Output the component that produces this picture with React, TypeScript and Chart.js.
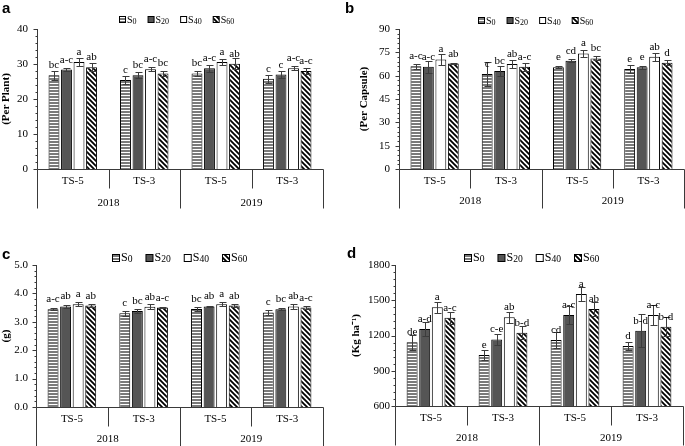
import React, { useEffect, useRef } from 'react';
import { Chart, registerables } from 'chart.js';

Chart.register(...registerables);

const SERIF = "'Liberation Serif', 'Times New Roman', Times, serif";
const SANS = "'Liberation Sans', Arial, Helvetica, sans-serif";
const AXIS = '#3a3a3a';

// two-level x axis
const categories = ['TS-5', 'TS-3', 'TS-5', 'TS-3'];
const years = ['2018', '2019'];
const seriesNames = ['S0', 'S20', 'S40', 'S60'];
const seriesSubs = ['0', '20', '40', '60'];

// panel a : (Per Plant) — one inner array per series (S0, S20, S40, S60)
const plantValues = [
  [26.8, 25.4, 27.3, 25.8],
  [28.4, 26.8, 28.8, 27.0],
  [30.6, 28.5, 30.6, 28.8],
  [29.1, 27.3, 30.1, 28.0],
];
const plantErrors = [
  [1.3, 1.2, 0.7, 1.2],
  [0.5, 0.9, 1.0, 1.0],
  [1.2, 0.6, 0.8, 0.6],
  [1.1, 0.7, 1.5, 0.8],
];
const plantLetters = [
  ['bc', 'c', 'bc', 'c'],
  ['a-c', 'bc', 'a-c', 'c'],
  ['a', 'a-c', 'a', 'a-c'],
  ['ab', 'bc', 'ab', 'a-c'],
];
const plantTicks = [0, 10, 20, 30, 40];

// panel b : (Per Capsule)
const capsuleValues = [
  [66.0, 61.0, 65.4, 64.3],
  [65.8, 63.0, 69.6, 65.4],
  [70.4, 67.5, 74.3, 72.2],
  [67.8, 65.8, 71.1, 68.3],
];
const capsuleErrors = [
  [1.6, 7.5, 0.6, 2.6],
  [3.8, 2.9, 0.8, 0.8],
  [3.8, 2.5, 2.1, 2.5],
  [0.3, 2.6, 1.3, 1.6],
];
const capsuleLetters = [
  ['a-c', 'c', 'e', 'e'],
  ['a-c', 'bc', 'cd', 'e'],
  ['a', 'ab', 'a', 'ab'],
  ['ab', 'a-c', 'bc', 'd'],
];
const capsuleTicks = [0, 15, 30, 45, 60, 75, 90];

// panel c : (g)
const weightValues = [
  [3.44, 3.30, 3.45, 3.33],
  [3.54, 3.38, 3.54, 3.44],
  [3.62, 3.53, 3.62, 3.54],
  [3.57, 3.50, 3.57, 3.50],
];
const weightErrors = [
  [0.04, 0.08, 0.06, 0.08],
  [0.06, 0.06, 0.03, 0.04],
  [0.08, 0.08, 0.08, 0.08],
  [0.05, 0.03, 0.05, 0.04],
];
const weightLetters = [
  ['a-c', 'c', 'bc', 'c'],
  ['ab', 'bc', 'ab', 'bc'],
  ['a', 'ab', 'a', 'ab'],
  ['ab', 'a-c', 'ab', 'a-c'],
];
const weightTicks = [0, 1, 2, 3, 4, 5];

// panel d : (Kg ha-1)
const yieldValues = [
  [1142, 1034, 1162, 1111],
  [1255, 1167, 1374, 1241],
  [1440, 1355, 1553, 1374],
  [1351, 1224, 1426, 1275],
];
const yieldErrors = [
  [62, 42, 71, 31],
  [57, 45, 77, 140],
  [48, 48, 57, 85],
  [51, 57, 62, 80],
];
const yieldLetters = [
  ['de', 'e', 'cd', 'd'],
  ['a-d', 'c-e', 'a-c', 'b-d'],
  ['a', 'ab', 'a', 'a-c'],
  ['a-c', 'b-d', 'ab', 'b-d'],
];
const yieldTicks = [600, 900, 1200, 1500, 1800];

type Panel = {
  letter: string; title: string;
  values: number[][]; errors: number[][]; letters: string[][];
  ticks: number[]; decimals: number;
  left: number; top: number; w: number; h: number;
  padL: number; padT: number; padR: number; padB: number;
  yW: number; tickPad: number; x2H: number; x2Pad: number;
  legX: number; legY: number; legFont: number; legBox: number; legGap: number;
  letX: number; letY: number;
};

const panels: Panel[] = [
  {
    letter: 'a', title: '(Per Plant)', values: plantValues, errors: plantErrors, letters: plantLetters,
    ticks: plantTicks, decimals: 0,
    left: 0, top: 0, w: 340, h: 225, padL: 0, padT: 29, padR: 17, padB: 16,
    yW: 37, tickPad: 9, x2H: 20, x2Pad: 8,
    legX: 177, legY: 19, legFont: 10, legBox: 6, legGap: 11, letX: 2, letY: 13,
  },
  {
    letter: 'b', title: '(Per Capsule)', values: capsuleValues, errors: capsuleErrors, letters: capsuleLetters,
    ticks: capsuleTicks, decimals: 0,
    left: 340, top: 0, w: 345, h: 225, padL: 18, padT: 29, padR: 1, padB: 16,
    yW: 41, tickPad: 9, x2H: 20, x2Pad: 6,
    legX: 196, legY: 20, legFont: 10, legBox: 6, legGap: 11, letX: 5, letY: 13,
  },
  {
    letter: 'c', title: '(g)', values: weightValues, errors: weightErrors, letters: weightLetters,
    ticks: weightTicks, decimals: 1,
    left: 0, top: 225, w: 340, h: 221, padL: 0, padT: 40, padR: 17, padB: 0,
    yW: 36, tickPad: 8, x2H: 19, x2Pad: 6,
    legX: 180, legY: 32, legFont: 12, legBox: 7, legGap: 13, letX: 2, letY: 34,
  },
  {
    letter: 'd', title: '(Kg ha\u207B\u00B9)', values: yieldValues, errors: yieldErrors, letters: yieldLetters,
    ticks: yieldTicks, decimals: 0,
    left: 340, top: 225, w: 345, h: 221, padL: 10, padT: 40, padR: 2, padB: 0,
    yW: 45, tickPad: 5, x2H: 20, x2Pad: 6,
    legX: 192, legY: 32, legFont: 12, legBox: 7, legGap: 13, letX: 7, letY: 33,
  },
];

function makeFills(): (string | CanvasPattern)[] {
  const h = document.createElement('canvas');
  h.width = 4; h.height = 3;
  const hg = h.getContext('2d')!;
  hg.fillStyle = '#ffffff'; hg.fillRect(0, 0, 4, 3);
  hg.fillStyle = '#7a7a7a'; hg.fillRect(0, 0, 4, 2);
  const hp = hg.createPattern(h, 'repeat')!;

  const s = 5;
  const d = document.createElement('canvas');
  d.width = s; d.height = s;
  const dg = d.getContext('2d')!;
  dg.fillStyle = '#ffffff'; dg.fillRect(0, 0, s, s);
  dg.strokeStyle = '#000000'; dg.lineWidth = 1.8;
  dg.beginPath();
  dg.moveTo(-1, -1); dg.lineTo(s + 1, s + 1);
  dg.moveTo(s - 1, -1); dg.lineTo(2 * s + 1, s + 1);
  dg.moveTo(-s - 1, -1); dg.lineTo(1, s + 1);
  dg.stroke();
  const dp = dg.createPattern(d, 'repeat')!;
  return [hp, '#555555', '#ffffff', dp];
}

function decoPlugin(p: Panel, fills: (string | CanvasPattern)[]) {
  return {
    id: 'deco',
    afterDatasetsDraw(chart: any) {
      const ctx: CanvasRenderingContext2D = chart.ctx;
      const ys = chart.scales.y;
      ctx.save();
      chart.data.datasets.forEach((_ds: any, di: number) => {
        const meta = chart.getDatasetMeta(di);
        meta.data.forEach((el: any, i: number) => {
          const v = p.values[di][i];
          const e = p.errors[di][i];
          const x = Math.round(el.x) + 0.5;
          const yT = Math.round(ys.getPixelForValue(v + e)) + 0.5;
          const yB = Math.round(ys.getPixelForValue(v - e)) + 0.5;
          ctx.strokeStyle = '#3c3c3c';
          ctx.lineWidth = 1;
          ctx.beginPath();
          ctx.moveTo(x, yT); ctx.lineTo(x, yB);
          ctx.moveTo(x - 3, yT); ctx.lineTo(x + 4, yT);
          ctx.moveTo(x - 3, yB); ctx.lineTo(x + 4, yB);
          ctx.stroke();
          ctx.fillStyle = '#000';
          ctx.font = `11px ${SERIF}`;
          ctx.textAlign = 'center';
          ctx.textBaseline = 'alphabetic';
          ctx.fillText(p.letters[di][i], el.x, el.y - 7);
        });
      });
      ctx.restore();
    },
    afterDraw(chart: any) {
      const ctx: CanvasRenderingContext2D = chart.ctx;
      const { left, right, top, bottom } = chart.chartArea;
      const ys = chart.scales.y;
      const xs = chart.scales.x;
      ctx.save();
      ctx.strokeStyle = AXIS;
      ctx.lineWidth = 1;
      const ax = Math.round(left) + 0.5;
      const ay = Math.round(bottom) + 0.5;
      ctx.beginPath();
      ctx.moveTo(ax, Math.round(top)); ctx.lineTo(ax, ay);
      ctx.moveTo(ax, ay); ctx.lineTo(Math.round(right) + 0.5, ay);
      // y ticks: major + 4 minor between
      const t = p.ticks;
      const major = t[1] - t[0];
      const minor = major / 5;
      const n = Math.round((t[t.length - 1] - t[0]) / minor);
      for (let i = 0; i <= n; i++) {
        const v = t[0] + i * minor;
        const y = Math.round(ys.getPixelForValue(v)) + 0.5;
        const len = i % 5 === 0 ? 4 : 2;
        ctx.moveTo(ax - len, y); ctx.lineTo(ax, y);
      }
      // category dividers
      const w = xs.getPixelForValue(1) - xs.getPixelForValue(0);
      const b0 = xs.getPixelForValue(0) - w / 2;
      for (let k = 0; k <= categories.length; k++) {
        const x = Math.round(b0 + k * w) + 0.5;
        const len = k % 2 === 0 ? 39 : 19;
        ctx.moveTo(x, ay); ctx.lineTo(x, ay + len);
      }
      ctx.stroke();

      // legend
      const fs = p.legFont;
      const sub = fs * 0.8;
      const items = seriesNames.map((_n, i) => {
        ctx.font = `${fs}px ${SERIF}`;
        const sw = ctx.measureText('S').width;
        ctx.font = `${sub}px ${SERIF}`;
        const dw = ctx.measureText(seriesSubs[i]).width;
        return { sw, dw, width: p.legBox + 2 + sw + dw };
      });
      const total = items.reduce((a, b) => a + b.width, 0) + p.legGap * (items.length - 1);
      let x = Math.round(p.legX - total / 2);
      const cy = p.legY;
      items.forEach((it, i) => {
        const bx = x + 0.5;
        const by = Math.round(cy - p.legBox / 2) + 0.5;
        ctx.fillStyle = fills[i] as any;
        ctx.fillRect(bx, by, p.legBox, p.legBox);
        ctx.strokeStyle = '#000';
        ctx.strokeRect(bx, by, p.legBox, p.legBox);
        ctx.fillStyle = '#000';
        ctx.textAlign = 'left';
        ctx.textBaseline = 'alphabetic';
        ctx.font = `${fs}px ${SERIF}`;
        const base = cy + fs * 0.36;
        ctx.fillText('S', x + p.legBox + 2, base);
        ctx.font = `${sub}px ${SERIF}`;
        ctx.fillText(seriesSubs[i], x + p.legBox + 2 + it.sw, base + 1);
        x += it.width + p.legGap;
      });

      // panel letter
      ctx.fillStyle = '#000';
      ctx.font = `bold 15px ${SANS}`;
      ctx.textAlign = 'left';
      ctx.textBaseline = 'alphabetic';
      ctx.fillText(p.letter, p.letX, p.letY);
      ctx.restore();
    },
  };
}

function PanelChart({ p }: { p: Panel }) {
  const ref = useRef<HTMLCanvasElement>(null);
  useEffect(() => {
    const canvas = ref.current!;
    const fills = makeFills();
    const tickFont = { family: SERIF, size: 11 };
    const chart = new Chart(canvas, {
      type: 'bar',
      data: {
        labels: categories,
        datasets: p.values.map((vals, i) => ({
          label: seriesNames[i],
          data: vals,
          xAxisID: 'x',
          backgroundColor: fills[i] as any,
          borderColor: '#000000',
          borderWidth: 1,
          categoryPercentage: 0.7,
          barPercentage: 0.87,
        })),
      },
      options: {
        responsive: false,
        animation: false,
        devicePixelRatio: 1,
        layout: { padding: { left: p.padL, top: p.padT, right: p.padR, bottom: p.padB } },
        plugins: { legend: { display: false }, tooltip: { enabled: false } },
        scales: {
          x: {
            type: 'category',
            position: 'bottom',
            offset: true,
            weight: 0,
            grid: { display: false, drawTicks: false },
            border: { display: false },
            ticks: { padding: 6, color: '#000', font: tickFont, autoSkip: false, maxRotation: 0 },
            afterFit: (s: any) => { s.height = 20; },
          },
          x2: {
            type: 'category',
            position: 'bottom',
            labels: years,
            offset: true,
            weight: 1,
            grid: { display: false, drawTicks: false },
            border: { display: false },
            ticks: { padding: p.x2Pad, color: '#000', font: tickFont, autoSkip: false, maxRotation: 0 },
            afterFit: (s: any) => { s.height = p.x2H; },
          },
          y: {
            type: 'linear',
            min: p.ticks[0],
            max: p.ticks[p.ticks.length - 1],
            afterBuildTicks: (s: any) => { s.ticks = p.ticks.map((v) => ({ value: v })); },
            grid: { display: false, drawTicks: false },
            border: { display: false },
            ticks: {
              padding: p.tickPad,
              color: '#000',
              font: tickFont,
              callback: (v: any) => Number(v).toFixed(p.decimals),
            },
            title: {
              display: true,
              text: p.title,
              color: '#000',
              font: { family: SERIF, size: 11, weight: 'bold' },
              padding: 0,
            },
            afterFit: (s: any) => { s.width = p.yW; },
          },
        },
      } as any,
      plugins: [decoPlugin(p, fills)],
    });
    return () => chart.destroy();
  }, [p]);
  return (
    <canvas
      ref={ref}
      width={p.w}
      height={p.h}
      style={{ position: 'absolute', left: p.left, top: p.top, width: p.w, height: p.h }}
    />
  );
}

export default function App() {
  return (
    <div style={{ position: 'fixed', left: 0, top: 0, width: 685, height: 446, background: '#fff', overflow: 'hidden' }}>
      {panels.map((p) => (
        <PanelChart key={p.letter} p={p} />
      ))}
    </div>
  );
}
